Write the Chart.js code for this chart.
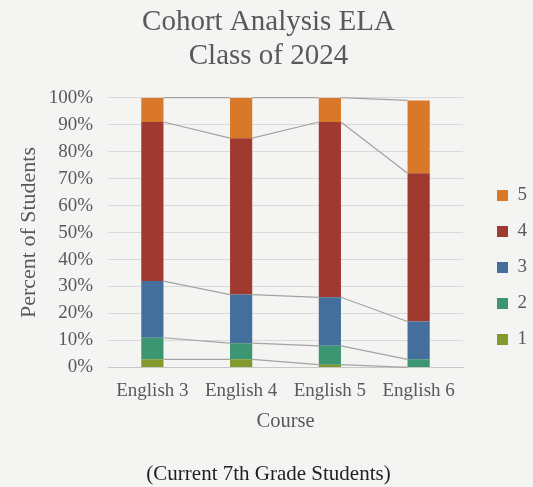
<!DOCTYPE html>
<html lang="en">
	<head>
		<meta charset="UTF-8" />
		<title>Cohort Analysis ELA</title>
		<script src="https://cdn.jsdelivr.net/npm/chart.js@4/dist/chart.umd.min.js"></script>
		<style>
			html,
			body {
				margin: 0;
				padding: 0;
				background: #f4f4f3;
			}
			.chart-container {
				position: relative;
				width: 533px;
				height: 487px;
			}
		</style>
	</head>
	<body>
		<div class="chart-container">
			<canvas id="cohort-chart"></canvas>
		</div>
		<script>
			// Data (percent of students per level)
			const courses = ['English 3', 'English 4', 'English 5', 'English 6']
			const level1 = [3, 3, 1, 0]
			const level2 = [8, 6, 7, 3]
			const level3 = [21, 18, 18, 14]
			const level4 = [59, 58, 65, 55]
			const level5 = [9, 15, 9, 27]
			const yTicks = [0, 10, 20, 30, 40, 50, 60, 70, 80, 90, 100]

			const serif = "'Liberation Serif', 'DejaVu Serif', serif"
			const grey = '#595959'

			// Page background
			const background = {
				id: 'background',
				beforeDraw(chart) {
					const ctx = chart.ctx
					ctx.save()
					ctx.fillStyle = '#f4f4f3'
					ctx.fillRect(0, 0, chart.width, chart.height)
					ctx.restore()
				},
			}

			// Excel-style series lines joining the top of each segment between bars
			const seriesLines = {
				id: 'seriesLines',
				afterDatasetsDraw(chart) {
					const ctx = chart.ctx
					const y = chart.scales.y
					const cum = new Array(courses.length).fill(0)
					ctx.save()
					ctx.strokeStyle = '#a3a3a3'
					ctx.lineWidth = 1.2
					chart.data.datasets.forEach((ds, di) => {
						const meta = chart.getDatasetMeta(di)
						ds.data.forEach((v, i) => (cum[i] += v))
						for (let i = 0; i < courses.length - 1; i++) {
							const a = meta.data[i]
							const b = meta.data[i + 1]
							ctx.beginPath()
							ctx.moveTo(a.x + a.width / 2, y.getPixelForValue(cum[i]))
							ctx.lineTo(b.x - b.width / 2, y.getPixelForValue(cum[i + 1]))
							ctx.stroke()
						}
					})
					ctx.restore()
				},
			}

			const ctx = document.getElementById('cohort-chart').getContext('2d')
			new Chart(ctx, {
				type: 'bar',
				data: {
					labels: courses,
					datasets: [
						{ label: '1', data: level1, backgroundColor: '#819a2b' },
						{ label: '2', data: level2, backgroundColor: '#3b9671' },
						{ label: '3', data: level3, backgroundColor: '#446f9d' },
						{ label: '4', data: level4, backgroundColor: '#a03a31' },
						{ label: '5', data: level5, backgroundColor: '#d97829' },
					],
				},
				options: {
					responsive: true,
					maintainAspectRatio: false,
					animation: false,
					datasets: {
						bar: {
							barPercentage: 0.25,
							categoryPercentage: 1,
						},
					},
					layout: {
						padding: { left: 0, right: -4, top: 6, bottom: 0 },
					},
					scales: {
						x: {
							stacked: true,
							grid: { display: false },
							border: { color: '#c8c8c8' },
							ticks: {
								color: grey,
								font: { family: serif, size: 19 },
								padding: 4,
							},
							title: {
								display: true,
								text: 'Course',
								color: grey,
								font: { family: serif, size: 20.5 },
								padding: { top: 3, bottom: 0 },
							},
						},
						y: {
							stacked: true,
							min: 0,
							max: 100,
							afterBuildTicks: axis => {
								axis.ticks = yTicks.map(v => ({ value: v }))
							},
							afterFit: axis => {
								axis.width = 108
							},
							grid: { color: '#d9d9d9', drawTicks: false },
							border: { display: false },
							ticks: {
								color: grey,
								font: { family: serif, size: 19 },
								padding: 15,
								callback: v => v + '%',
							},
							title: {
								display: true,
								text: 'Percent of Students',
								color: grey,
								font: { family: serif, size: 22 },
								padding: { top: 16, bottom: 0 },
							},
						},
						// empty spacer between the plot and the legend
						gap: {
							type: 'linear',
							position: 'right',
							min: 0,
							max: 1,
							grid: { display: false },
							border: { display: false },
							ticks: { display: false },
							afterFit: axis => {
								axis.width = 17
							},
						},
					},
					plugins: {
						title: {
							display: true,
							text: ['Cohort Analysis ELA', 'Class of 2024'],
							color: grey,
							font: { family: serif, size: 29, weight: 'normal', lineHeight: 1.15 },
							padding: { top: 0, bottom: 25 },
						},
						subtitle: {
							display: true,
							position: 'bottom',
							text: '(Current 7th Grade Students)',
							color: '#1f1f1f',
							font: { family: serif, size: 21 },
							padding: { top: 28, bottom: 0 },
						},
						legend: {
							position: 'right',
							reverse: true,
							title: {
								display: true,
								text: ' ',
								font: { size: 10 },
								padding: 15,
							},
							labels: {
								color: grey,
								font: { family: serif, size: 19 },
								boxWidth: 11,
								boxHeight: 11,
								padding: 17,
							},
						},
						tooltip: { enabled: false },
					},
				},
				plugins: [background, seriesLines],
			})
		</script>
	</body>
</html>
